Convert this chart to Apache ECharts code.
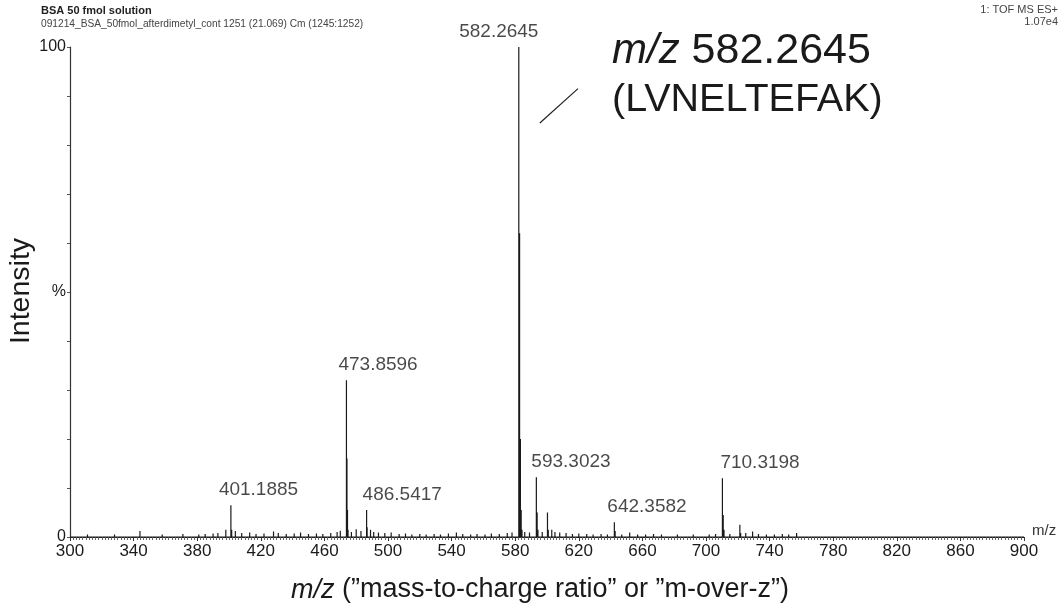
<!DOCTYPE html>
<html>
<head>
<meta charset="utf-8">
<script src="https://cdn.jsdelivr.net/npm/echarts@6/dist/echarts.min.js"></script>
<style>
  html, body { margin: 0; padding: 0; background: #fff; }
  #chart { width: 1064px; height: 608px; }
</style>
</head>
<body>
<div id="chart"></div>
<script>
// Labelled peaks: centroid m/z and relative intensity (%)
const labelMz  = [401.1885, 473.8596, 486.5417, 582.2645, 593.3023, 642.3582, 710.3198];
const labelInt = [6.5,      32,       5.5,      100,      12.2,     3.0,      12.0];

// Isotope peaks and other resolved signals (m/z, %)
const isoMz  = [582.7645, 583.2645, 583.7645, 584.2645, 474.1929, 474.5263, 474.8596,
                593.8023, 594.3023, 600.30, 600.80, 710.8198, 711.3198, 721.30, 721.80,
                642.8582, 401.6885, 486.8750, 398.0, 480.0, 344.0, 729.3];
const isoInt = [62,       20,       5.5,      1.5,      16,       5.5,      1.5,
                5.0,      1.5,      5.0,    1.5,    4.5,      1.5,      2.5,    0.8,
                1.2,      1.5,      2.0,      1.5,   1.6,   1.2,   1.1];

// Baseline noise spikes (m/z, %)
const noiseMz  = [302, 306, 311, 315, 319, 324, 328, 333, 337, 349, 353, 358, 362, 367, 371,
                  376, 381, 385, 390, 393, 404, 408, 413, 417, 422, 428, 431, 436, 441, 445,
                  450, 455, 459, 464, 468, 470, 477, 483, 489, 491, 494, 498, 502, 507, 511,
                  515, 520, 524, 529, 533, 538, 543, 547, 552, 556, 561, 565, 570, 575, 578,
                  586, 589, 597, 603, 605, 608, 612, 616, 620, 625, 629, 634, 638, 647, 652,
                  657, 662, 667, 672, 677, 682, 687, 692, 697, 702, 706, 715, 725, 733, 738,
                  743, 748, 752, 757, 762, 768, 775, 784, 795, 810, 830, 850, 870, 890];
const noiseInt = [0.4, 0.3, 0.5, 0.3, 0.4, 0.3, 0.5, 0.3, 0.4, 0.4, 0.3, 0.5, 0.3, 0.4, 0.6,
                  0.4, 0.5, 0.6, 0.7, 0.8, 1.2, 0.8, 0.9, 0.6, 0.7, 1.1, 0.8, 0.6, 0.7, 0.9,
                  0.6, 0.7, 0.6, 0.8, 1.0, 1.3, 1.0, 1.2, 1.5, 1.0, 0.9, 0.8, 0.9, 0.6, 0.7,
                  0.5, 0.6, 0.5, 0.6, 0.5, 0.7, 0.9, 0.6, 0.5, 0.6, 0.5, 0.7, 0.6, 0.8, 0.9,
                  1.0, 0.9, 1.0, 1.5, 1.0, 0.9, 0.8, 0.6, 0.7, 0.6, 0.5, 0.6, 0.5, 0.5, 0.9,
                  0.5, 0.5, 0.6, 0.5, 0.4, 0.5, 0.4, 0.5, 0.4, 0.5, 0.6, 0.6, 0.8, 0.6, 0.5,
                  0.5, 0.6, 0.5, 0.8, 0.4, 0.3, 0.3, 0.2, 0.2, 0.2, 0.2, 0.2, 0.2, 0.2];

// Axis range
const mzMin = 300, mzMax = 900, mzStep = 40;
const yLabels = { 0: '0', 50: '%', 100: '100' };

const FONT = "'Liberation Sans', Arial, Helvetica, sans-serif";
const INK = '#1a1a1a';

// Build a stick spectrum: every peak rises from and returns to the baseline
const allPeaks = [];
labelMz.forEach((m, i) => allPeaks.push([m, labelInt[i]]));
isoMz.forEach((m, i) => allPeaks.push([m, isoInt[i]]));
noiseMz.forEach((m, i) => allPeaks.push([m, noiseInt[i]]));
allPeaks.sort((a, b) => a[0] - b[0]);
const stickData = [[mzMin, 0]];
allPeaks.forEach(([m, h]) => { stickData.push([m, 0], [m, h], [m, 0]); });
stickData.push([mzMax, 0]);

// Per-label placement tweaks (horizontal alignment relative to the stick)
const labelAlign = ['left', 'left', 'left', 'center', 'left', 'left', 'left'];
const labelDx    = [-12, -8, -4, -20, -5, -7, -2];

const labelData = labelMz.map((m, i) => ({
  value: [m, labelInt[i]],
  label: { align: labelAlign[i], offset: [labelDx[i], 0] }
}));

const chart = echarts.init(document.getElementById('chart'), null, { renderer: 'canvas' });

chart.setOption({
  backgroundColor: '#ffffff',
  animation: false,
  grid: { left: 70, right: 40, top: 47, bottom: 71, containLabel: false },
  xAxis: {
    type: 'value',
    min: mzMin, max: mzMax, interval: mzStep,
    name: 'm/z',
    nameLocation: 'end',
    nameGap: 8,
    nameTextStyle: { fontFamily: FONT, fontSize: 15, color: '#333', verticalAlign: 'bottom', padding: [0, 0, -1, 0] },
    axisLine: { show: true, lineStyle: { color: '#222', width: 1 } },
    axisTick: { show: true, length: 4, lineStyle: { color: '#333' } },
    minorTick: { show: true, splitNumber: 20, length: 3, lineStyle: { color: '#666' } },
    axisLabel: { fontFamily: FONT, fontSize: 17, color: INK, margin: 6 },
    splitLine: { show: false }
  },
  yAxis: {
    type: 'value',
    min: 0, max: 100, interval: 10,
    axisLine: { show: true, lineStyle: { color: '#333', width: 1.2 } },
    axisTick: { show: true, length: 3, lineStyle: { color: '#555' } },
    axisLabel: {
      fontFamily: FONT, fontSize: 16, color: INK, margin: 4,
      formatter: v => (yLabels[v] !== undefined ? yLabels[v] : '')
    },
    splitLine: { show: false }
  },
  series: [
    {
      name: 'spectrum',
      type: 'line',
      data: stickData,
      showSymbol: false,
      symbol: 'none',
      lineStyle: { color: INK, width: 1.2 },
      silent: true,
      z: 3,
      markLine: {
        silent: true,
        symbol: ['none', 'none'],
        label: { show: false },
        lineStyle: { color: '#222', width: 1.2, type: 'solid' },
        data: [[{ coord: [595.5, 84.5] }, { coord: [619.5, 91.5] }]]
      }
    },
    {
      name: 'labels',
      type: 'scatter',
      data: labelData,
      symbolSize: 0,
      silent: true,
      label: {
        show: true,
        position: 'top',
        distance: 6,
        fontFamily: FONT,
        fontSize: 19,
        color: INK,
        formatter: p => p.value[0].toFixed(4)
      },
      z: 4
    }
  ],
  graphic: [
    { type: 'text', left: 41, top: 5,
      style: { text: 'BSA 50 fmol solution', font: 'bold 11px ' + FONT, fill: '#222' } },
    { type: 'text', left: 41, top: 19,
      style: { text: '091214_BSA_50fmol_afterdimetyl_cont 1251 (21.069) Cm (1245:1252)', font: '10.2px ' + FONT, fill: '#444' } },
    { type: 'text', right: 6, top: 4,
      style: { text: '1: TOF MS ES+', font: '11px ' + FONT, fill: '#444', align: 'right' } },
    { type: 'text', right: 6, top: 16,
      style: { text: '1.07e4', font: '11px ' + FONT, fill: '#444', align: 'right' } },
    { type: 'text', left: 612, top: 30,
      style: {
        text: '{i|m/z} 582.2645',
        font: '43px ' + FONT, fill: INK,
        rich: { i: { fontStyle: 'italic', fontSize: 42, fontFamily: FONT, fill: INK } }
      } },
    { type: 'text', left: 612, top: 80,
      style: { text: '(LVNELTEFAK)', font: '39.5px ' + FONT, fill: INK } },
    { type: 'text', x: 21, y: 291, rotation: Math.PI / 2,
      style: { text: 'Intensity', font: '28.5px ' + FONT, fill: INK, align: 'center', verticalAlign: 'middle' } },
    { type: 'text', x: 540, y: 590,
      style: {
        text: '{i|m/z} (”mass-to-charge ratio” or ”m-over-z”)',
        font: '27px ' + FONT, fill: INK, align: 'center', verticalAlign: 'middle',
        rich: { i: { fontStyle: 'italic', fontSize: 27, fontFamily: FONT, fill: INK } }
      } }
  ]
});
</script>
</body>
</html>
